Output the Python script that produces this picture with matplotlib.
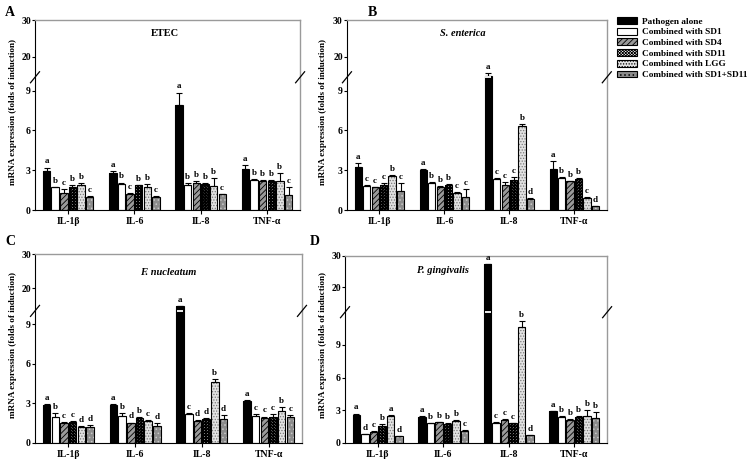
import numpy as np
import matplotlib
matplotlib.use("Agg")
import matplotlib.pyplot as plt
from matplotlib.patches import Patch

plt.rcParams["font.family"] = "Liberation Serif"
plt.rcParams["font.weight"] = "bold"
plt.rcParams["hatch.linewidth"] = 0.6

genes = ["IL-1\u03b2", "IL-6", "IL-8", "TNF-\u03b1"]
treatments = ["Pathogen alone", "Combined with SD1", "Combined with SD4",
              "Combined with SD11", "Combined with LGG", "Combined with SD1+SD11"]

# values[treatment][gene]
etec_vals = [[2.95, 2.8, 7.9, 3.1],
             [1.7, 1.95, 1.85, 2.25],
             [1.25, 1.2, 2.0, 2.15],
             [1.75, 1.85, 1.95, 2.2],
             [1.9, 1.75, 1.8, 2.15],
             [1.0, 0.95, 1.17, 1.1]]
etec_err = [[0.25, 0.12, 0.95, 0.3],
            [0.05, 0.12, 0.2, 0.05],
            [0.3, 0.05, 0.15, 0.08],
            [0.1, 0.05, 0.1, 0.05],
            [0.15, 0.22, 0.6, 0.65],
            [0.05, 0.12, 0.05, 0.65]]
etec_letters = [["a", "a", "a", "a"], ["b", "b", "b", "b"], ["c", "c", "b", "b"],
                ["b", "b", "b", "b"], ["b", "b", "b", "b"], ["c", "c", "c", "c"]]

sent_vals = [[3.25, 3.05, 14.8, 3.1],
             [1.8, 2.0, 2.3, 2.4],
             [1.7, 1.75, 1.9, 2.15],
             [1.85, 1.85, 2.25, 2.35],
             [2.6, 1.3, 6.35, 0.9],
             [1.4, 1.0, 0.85, 0.28]]
sent_err = [[0.3, 0.05, 0.9, 0.6],
            [0.05, 0.1, 0.1, 0.1],
            [0.05, 0.05, 0.2, 0.05],
            [0.15, 0.08, 0.2, 0.05],
            [0.05, 0.05, 0.1, 0.05],
            [0.65, 0.6, 0.08, 0.05]]
sent_letters = [["a", "a", "a", "a"], ["c", "b", "c", "b"], ["c", "b", "c", "b"],
                ["c", "b", "c", "b"], ["b", "c", "b", "c"], ["c", "c", "d", "d"]]

fnuc_vals = [[2.9, 2.9, 14.8, 3.2],
             [2.0, 2.05, 2.2, 2.05],
             [1.55, 1.5, 1.65, 1.9],
             [1.6, 1.9, 1.8, 2.0],
             [1.2, 1.7, 4.6, 2.4],
             [1.2, 1.3, 1.8, 2.0]]
fnuc_err = [[0.05, 0.05, 0.0, 0.05],
            [0.25, 0.25, 0.05, 0.15],
            [0.05, 0.05, 0.08, 0.1],
            [0.05, 0.05, 0.08, 0.2],
            [0.05, 0.05, 0.25, 0.35],
            [0.15, 0.2, 0.3, 0.15]]
fnuc_letters = [["a", "a", "a", "a"], ["b", "b", "c", "c"], ["c", "d", "d", "c"],
                ["c", "b", "d", "c"], ["d", "c", "b", "b"], ["d", "d", "d", "c"]]

pgin_vals = [[2.6, 2.4, 27.5, 2.9],
             [0.8, 1.8, 1.85, 2.35],
             [1.05, 1.9, 2.1, 2.15],
             [1.6, 1.75, 1.8, 2.4],
             [2.5, 2.05, 10.6, 2.5],
             [0.62, 1.1, 0.7, 2.25]]
pgin_err = [[0.1, 0.05, 0.0, 0.05],
            [0.05, 0.05, 0.05, 0.15],
            [0.05, 0.05, 0.1, 0.05],
            [0.1, 0.05, 0.05, 0.05],
            [0.05, 0.05, 0.6, 0.5],
            [0.05, 0.05, 0.05, 0.6]]
pgin_letters = [["a", "a", "a", "a"], ["d", "b", "c", "b"], ["c", "b", "c", "b"],
                ["b", "b", "c", "b"], ["a", "b", "b", "b"], ["d", "c", "d", "b"]]

# (face, hatch color, hatch, hatch linewidth)
styles = [("black", "black", None, 0.6),
          ("white", "black", None, 0.6),
          ("#9a9a9a", "black", "//////", 0.6),
          ("white", "black", "x" * 11, 1.0),
          ("#e2e2e2", "#7a7a7a", "......", 0.6),
          ("#8c8c8c", "#c8c8c8", "....", 0.6)]


def make_scale(b1, b2, frac, top=30.0, eps=1e-3):
    up = (1 - frac) / (top - b2)

    def fwd(y):
        y = np.asarray(y, dtype=float)
        lo = y / b1 * frac
        mid = frac + (y - b1) / (b2 - b1) * eps
        hi = frac + eps + (y - b2) * up
        return np.where(y <= b1, lo, np.where(y <= b2, mid, hi))

    def inv(v):
        v = np.asarray(v, dtype=float)
        lo = v / frac * b1
        mid = b1 + (v - frac) / eps * (b2 - b1)
        hi = b2 + (v - frac - eps) / up
        return np.where(v <= frac, lo, np.where(v <= frac + eps, mid, hi))

    return fwd, inv


def panel(ax, vals, errs, letters, title, tpos, b1, b2, frac, italic):
    fwd, inv = make_scale(b1, b2, frac)
    ax.set_yscale("function", functions=(fwd, inv))
    ax.set_ylim(0, 30)
    ax.set_xlim(-0.5, 3.5)
    x = np.arange(len(genes))
    step, w = 0.13, 0.112
    for i, (face, hc, hatch, hlw) in enumerate(styles):
        xs = x + (i - 2.5) * step
        v = np.array(vals[i])
        e = np.array(errs[i])
        bars = ax.bar(xs, v, w, color=face, edgecolor=hc, hatch=hatch, linewidth=0, zorder=2)
        for b in bars:
            if hasattr(b, "set_hatch_linewidth"):
                b.set_hatch_linewidth(hlw)
        ax.bar(xs, v, w, fill=False, edgecolor="black", linewidth=0.8, zorder=3)
        ax.errorbar(xs, v, yerr=[np.zeros_like(e), e], fmt="none", ecolor="black",
                    elinewidth=0.8, capsize=2, capthick=0.8, zorder=4)
        for xi, vi, ei, lt in zip(xs, v, e, letters[i]):
            ax.annotate(lt, (xi, vi + ei), xytext=(0, 1.5), textcoords="offset points",
                        ha="center", va="bottom", fontsize=6.5, fontweight="bold")
            if vi > b2:
                ax.hlines(b1, xi - w / 2 + 0.01, xi + w / 2 - 0.01, color="white",
                          lw=1.3, zorder=5)
    ax.set_xticks(x)
    ax.set_xticklabels(genes, fontsize=7, fontweight="bold")
    ax.set_yticks([0, 3, 6, 9, 20, 30])
    ax.set_yticklabels(["0", "3", "6", "9", "20", "30"], fontsize=7, fontweight="bold")
    ax.tick_params(axis="y", direction="out", length=2, width=0.8, pad=1)
    ax.tick_params(axis="x", direction="out", length=3, width=0.8, pad=2)
    for s in ["left", "bottom"]:
        ax.spines[s].set_color("black")
        ax.spines[s].set_linewidth(0.8)
    for s in ["top", "right"]:
        ax.spines[s].set_color("#9a9a9a")
        ax.spines[s].set_linewidth(1.0)
    ax.text(tpos[0], tpos[1], title, transform=ax.transAxes, ha="center", va="center",
            fontsize=7.5, fontweight="bold", style="italic" if italic else "normal")
    # break marks
    bb = ax.get_position()
    fig = ax.figure
    wpx = bb.width * fig.bbox.width
    hpx = bb.height * fig.bbox.height
    yb = frac / (1 + 1e-3)
    dx, dy = 4.5 / wpx, 5.5 / hpx
    for xb in (0, 1):
        ax.plot([xb - dx, xb + dx], [yb - dy, yb + dy], transform=ax.transAxes,
                color="black", lw=0.9, clip_on=False, zorder=6)


fig = plt.figure(figsize=(7.51, 4.63), dpi=100)
ax_a = fig.add_axes([0.0466, 0.5464, 0.353, 0.410])
ax_b = fig.add_axes([0.462, 0.5464, 0.346, 0.410])
ax_c = fig.add_axes([0.0466, 0.0432, 0.3555, 0.408])
ax_d = fig.add_axes([0.4594, 0.0432, 0.349, 0.404])

panel(ax_a, etec_vals, etec_err, etec_letters, "ETEC", (0.49, 0.93), 10, 14.5, 0.70, False)
panel(ax_b, sent_vals, sent_err, sent_letters, "S. enterica", (0.446, 0.93), 10, 14.5, 0.70, True)
panel(ax_c, fnuc_vals, fnuc_err, fnuc_letters, "F. nucleatum", (0.5, 0.905), 10, 13.5, 0.70, True)
panel(ax_d, pgin_vals, pgin_err, pgin_letters, "P. gingivalis", (0.374, 0.92), 12, 12.01, 0.70, True)

ylab = "mRNA expression (folds of induction)"
for xp, yp in [(13, 112), (323, 112), (13, 345), (323, 345)]:
    fig.text(xp / 751, 1 - yp / 463, ylab, rotation=90, ha="center", va="center",
             fontsize=6.6, fontweight="bold")

for lab, xp, yp in [("A", 10, 12), ("B", 372, 12), ("C", 10, 242), ("D", 315, 242)]:
    fig.text(xp / 751, 1 - yp / 463, lab, ha="center", va="center", fontsize=10,
             fontweight="bold")

handles = []
for f, hc, h, hlw in styles:
    p = Patch(facecolor=f, edgecolor=hc, hatch=h, linewidth=0.8)
    if hasattr(p, "set_hatch_linewidth"):
        p.set_hatch_linewidth(hlw)
    handles.append(p)
leg = fig.legend(handles, treatments, loc="upper left",
                 bbox_to_anchor=(617 / 751, 1 - 17 / 463), frameon=False,
                 fontsize=6.7, handlelength=2.2, handleheight=0.75, labelspacing=0.22,
                 handletextpad=0.5, borderpad=0, borderaxespad=0)
for p in leg.get_patches():
    p.set_edgecolor("black")

fig.savefig("out.png", dpi=100)
